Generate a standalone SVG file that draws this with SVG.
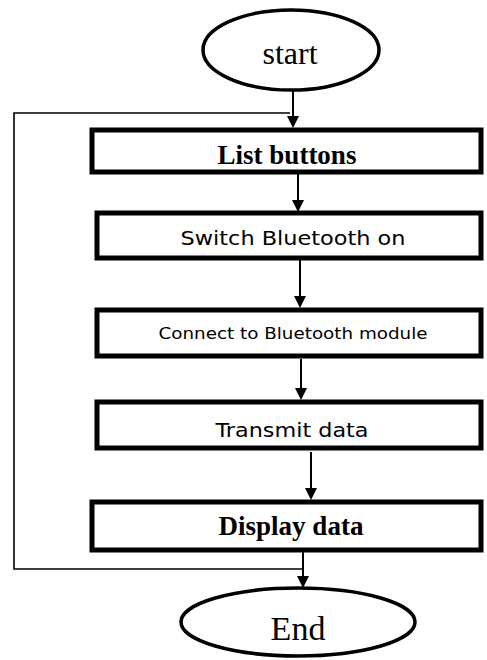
<svg xmlns="http://www.w3.org/2000/svg" width="487" height="660" viewBox="0 0 487 660">
<defs>
<marker id="ah" markerWidth="12" markerHeight="12" refX="10" refY="6" orient="auto" markerUnits="userSpaceOnUse">
<path d="M0,0 L12,6 L0,12 Z" fill="#000"/>
</marker>
<style>
.box{fill:#fff;stroke:#000;stroke-width:5}
.ell{fill:#fff;stroke:#000;stroke-width:3.5}
.con{fill:none;stroke:#000;stroke-width:2}
.fb{fill:none;stroke:#000;stroke-width:1.6}
.serif{font-family:"Liberation Serif","Times New Roman",serif;fill:#000;text-anchor:middle}
.sans{font-family:"DejaVu Sans",Verdana,sans-serif;fill:#000;text-anchor:middle}
</style>
</defs>
<rect width="487" height="660" fill="#fff"/>
<g id="connectors">
<polyline class="fb" points="290,113 14,113 14,569 303,569"/>
<line class="con" x1="293" y1="90" x2="293" y2="126" marker-end="url(#ah)"/>
<line class="con" x1="298" y1="174" x2="298" y2="210" marker-end="url(#ah)"/>
<line class="con" x1="300" y1="260" x2="300" y2="306" marker-end="url(#ah)"/>
<line class="con" x1="301" y1="359" x2="301" y2="398" marker-end="url(#ah)"/>
<line class="con" x1="311" y1="452" x2="311" y2="498" marker-end="url(#ah)"/>
<line class="con" x1="303" y1="552" x2="303" y2="586" marker-end="url(#ah)"/>
</g>
<g id="start">
<ellipse class="ell" cx="291" cy="50" rx="88" ry="40"/>
<text class="serif" x="290" y="64" font-size="32">start</text>
</g>
<g id="list-buttons">
<rect class="box" x="92" y="130" width="389" height="42"/>
<text class="serif" x="287" y="164" font-size="27" font-weight="bold">List buttons</text>
</g>
<g id="switch-bluetooth">
<rect class="box" x="97" y="213" width="384" height="45"/>
<text class="sans" x="293" y="245" font-size="20" textLength="225" lengthAdjust="spacingAndGlyphs">Switch Bluetooth on</text>
</g>
<g id="connect-module">
<rect class="box" x="97" y="310" width="384" height="46"/>
<text class="sans" x="293" y="339" font-size="16" textLength="269" lengthAdjust="spacingAndGlyphs">Connect to Bluetooth module</text>
</g>
<g id="transmit-data">
<rect class="box" x="97" y="402" width="384" height="46"/>
<text class="sans" x="292" y="437" font-size="20" textLength="153" lengthAdjust="spacingAndGlyphs">Transmit data</text>
</g>
<g id="display-data">
<rect class="box" x="92" y="502" width="389" height="48"/>
<text class="serif" x="291" y="535" font-size="27" font-weight="bold">Display data</text>
</g>
<g id="end">
<ellipse class="ell" cx="298" cy="622" rx="117" ry="34"/>
<text class="serif" x="298" y="640" font-size="34">End</text>
</g>
</svg>
